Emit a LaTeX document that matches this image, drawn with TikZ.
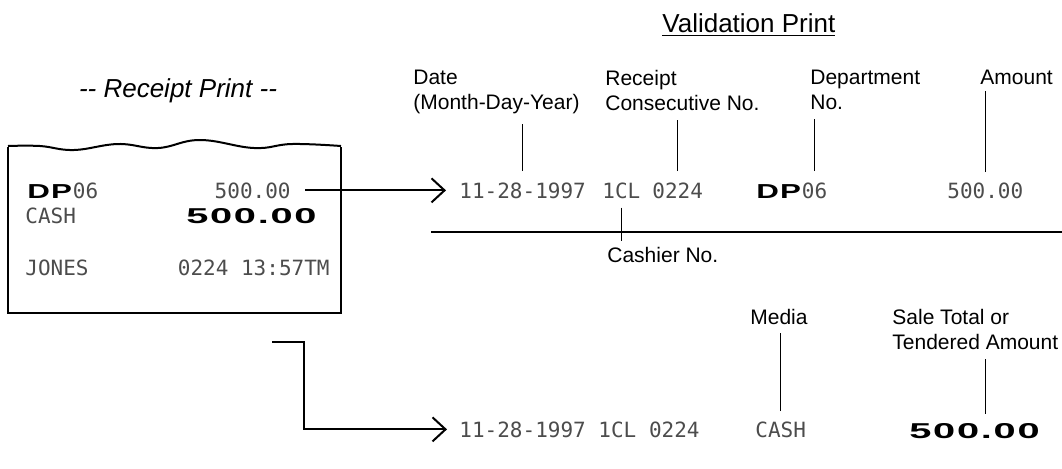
\documentclass[tikz,border=0pt]{standalone}
\usepackage{fontspec}
\setmainfont{Liberation Sans}
\newfontfamily\tapefont{DejaVu Sans Mono}
\newfontfamily\widefont[FakeStretch=1.85,LetterSpace=8]{Liberation Sans}
\newfontfamily\dpfont[FakeStretch=1.55,LetterSpace=6]{Liberation Sans}
\usetikzlibrary{arrows.meta}

\begin{document}
\begin{tikzpicture}[
    x=0.5pt,
    y=-0.5pt,
    lbl/.style={
        anchor=north west,
        inner sep=0pt,
        align=left,
        font=\fontsize{10.5}{12.5}\selectfont
    },
    tape/.style={
        anchor=base west,
        inner sep=0pt,
        text=black!70,
        font=\tapefont\fontsize{10.5}{12}\selectfont
    },
    big/.style={
        anchor=base west,
        inner sep=0pt,
        font=\widefont\bfseries\fontsize{10.75}{12}\selectfont
    },
    dp/.style={
        anchor=base west,
        inner sep=0pt,
        font=\dpfont\bfseries\fontsize{10.1}{12}\selectfont
    },
    leader/.style={
        line width=0.5pt
    },
    sepline/.style={
        line width=1pt
    },
    paper/.style={
        line width=1pt
    },
    arrow/.style={
        line width=1pt,
        -{Straight Barb[length=6.5pt,width=12pt]}
    }]

\useasboundingbox (0,0) rectangle (1062,468);

% Titles
\node[
    font=\itshape\fontsize{13}{15}\selectfont,
    anchor=base,
    inner sep=0pt
] (rcpttitle) at (178,97)
{-{}- Receipt Print -{}-};

\node[
    font=\fontsize{13}{15}\selectfont,
    anchor=base west,
    inner sep=0pt
] (valtitle) at (662,32)
{\underline{Validation Print}};


% Receipt paper
\draw[paper] (8,147) -- (8,313) -- (341,313) -- (341,147);
\draw[paper] plot[smooth, tension=0.7] coordinates
{(8,146) (40,146) (74,150) (118,144) (158,148) (200,140) (254,148) (292,144) (341,146)};


% Receipt text
\node[dp] (rcptdp) at (27,198) {DP};
\node[tape] (rcptdept) at (rcptdp.base east) {06};
\node[tape, anchor=base east] (rcptamt) at (291,198) {500.00};

\node[tape] (rcptmedia) at (25,223) {CASH};
\node[big, anchor=base east] (rcpttotal) at (317,223) {500.00};

\node[tape] (rcptclerk) at (25,275) {JONES};
\node[tape, anchor=base east] (rcpttime) at (330,275) {0224 13:57TM};


% Validation: first line
\node[tape] (datefld) at (459,198) {11-28-1997};
\node[tape] (cashierfld) at (602,198) {1CL};
\node[tape] (consfld) at (652,198) {0224};
\node[dp] (deptdp) at (756,198) {DP};
\node[tape] (deptfld) at (deptdp.base east) {06};
\node[tape] (amtfld) at (947,198) {500.00};


% Validation: second line
\node[tape] (botdate) at (459,437) {11-28-1997 1CL 0224};
\node[tape] (mediafld) at (755,437) {CASH};
\node[big] (totfld) at (909,438) {500.00};


% Labels
\node[lbl] (datelbl) at (413,70) {Date\\(Month-Day-Year)};
\node[lbl] (conslbl) at (605,70) {Receipt\\Consecutive No.};
\node[lbl] (deptlbl) at (810,70) {Department\\No.};
\node[lbl] (amtlbl) at (980,70) {Amount};
\node[lbl] (cashierlbl) at (607,247) {Cashier No.};
\node[lbl] (medialbl) at (750,309) {Media};
\node[lbl] (salelbl) at (892,309) {Sale Total or\\Tendered Amount};


% Leaders
\draw[leader] ([yshift=5.5pt]datefld.north) -- ([yshift=-4.5pt]datefld.north |- datelbl.south);
\draw[leader] ([yshift=-4.5pt]cashierfld.south) -- ([yshift=3pt]cashierfld.south |- cashierlbl.north);
\draw[leader] ([yshift=5.5pt]consfld.north) -- ([yshift=-4.5pt]consfld.north |- conslbl.south);
\draw[leader] ([yshift=5.5pt]deptfld.north) -- ([yshift=-4.5pt]deptfld.north |- deptlbl.south);
\draw[leader] ([yshift=5pt]amtfld.north) -- ([yshift=-3pt]amtfld.north |- amtlbl.south);
\draw[leader] ([yshift=5pt]mediafld.north) -- ([yshift=-4pt]mediafld.north |- medialbl.south);

\coordinate (totpin) at ([xshift=5.5pt]totfld.north);
\draw[leader] ([yshift=4.5pt]totpin) -- ([yshift=-4.5pt]totpin |- salelbl.south);


% Separator
\coordinate (sepstart) at (431,232);
\coordinate (sepend) at (1062,232);
\draw[sepline] (sepstart) -- (sepend);


% Arrows
\draw[arrow] ([xshift=7pt]rcptamt.east) -- ([xshift=-6.5pt]datefld.west);

\coordinate (feed) at (272,342);
\draw[arrow] (feed) -- ++(32,0) |- ([xshift=-6pt]botdate.west);

\end{tikzpicture}
\end{document}
